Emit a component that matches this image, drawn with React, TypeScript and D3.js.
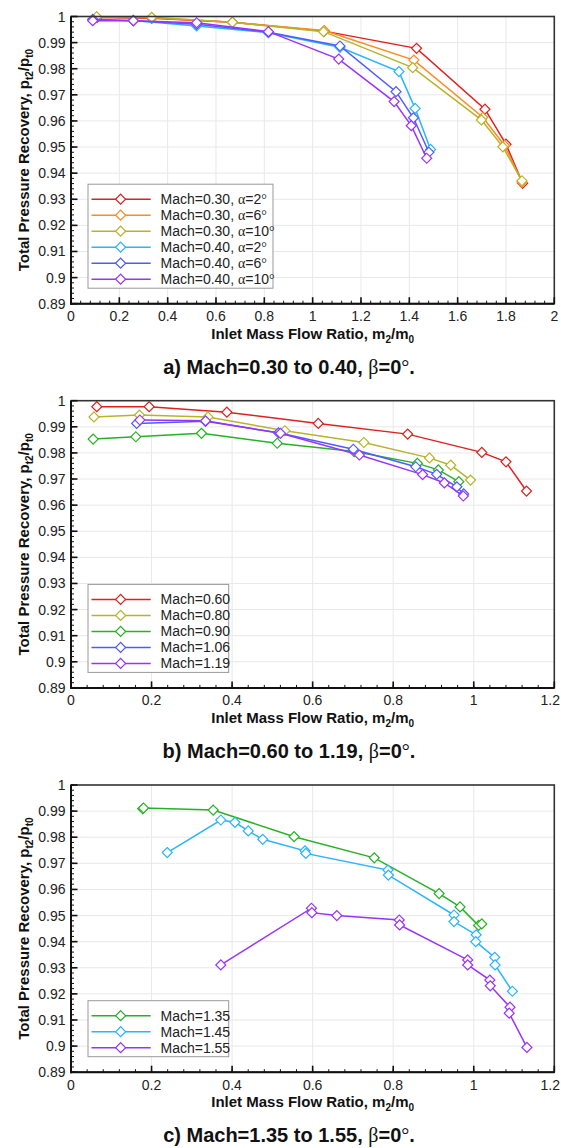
import React from "react";
import * as d3 from "d3";

type Pt = [number, number];

// ---------- Panel a: Mach 0.30 to 0.40 ----------
const a_M030_al2: Pt[] = [[0.107, 0.9996], [0.334, 0.9993], [0.668, 0.9978], [1.048, 0.9944], [1.430, 0.9878], [1.713, 0.9645], [1.800, 0.9511], [1.869, 0.9361]];
const a_M030_al6: Pt[] = [[0.106, 0.9998], [0.334, 0.9995], [0.668, 0.9978], [1.048, 0.9946], [1.419, 0.9833], [1.704, 0.9614], [1.794, 0.9506], [1.866, 0.9366]];
const a_M030_al10: Pt[] = [[0.106, 0.9999], [0.334, 0.9997], [0.668, 0.9978], [1.045, 0.9942], [1.414, 0.9804], [1.698, 0.9604], [1.787, 0.9501], [1.866, 0.9371]];
const a_M040_al2: Pt[] = [[0.090, 0.9987], [0.258, 0.9985], [0.520, 0.9964], [0.817, 0.9938], [1.113, 0.9882], [1.357, 0.9789], [1.424, 0.9648], [1.488, 0.9491]];
const a_M040_al6: Pt[] = [[0.090, 0.9989], [0.258, 0.9984], [0.520, 0.9970], [0.817, 0.9940], [1.113, 0.9887], [1.345, 0.9712], [1.417, 0.9612], [1.481, 0.9480]];
const a_M040_al10: Pt[] = [[0.090, 0.9984], [0.258, 0.9984], [0.520, 0.9976], [0.817, 0.9942], [1.108, 0.9837], [1.337, 0.9674], [1.408, 0.9582], [1.472, 0.9457]];
const a_labels = ["Mach=0.30, α=2°", "Mach=0.30, α=6°", "Mach=0.30, α=10°", "Mach=0.40, α=2°", "Mach=0.40, α=6°", "Mach=0.40, α=10°"];

// ---------- Panel b: Mach 0.60 to 1.19 ----------
const b_M060: Pt[] = [[0.064, 0.9977], [0.194, 0.9977], [0.387, 0.9956], [0.614, 0.9913], [0.836, 0.9872], [1.020, 0.9802], [1.080, 0.9766], [1.131, 0.9654]];
const b_M080: Pt[] = [[0.057, 0.9938], [0.170, 0.9945], [0.340, 0.9938], [0.531, 0.9885], [0.727, 0.9840], [0.890, 0.9781], [0.943, 0.9753], [0.992, 0.9696]];
const b_M090: Pt[] = [[0.055, 0.9853], [0.161, 0.9862], [0.324, 0.9875], [0.512, 0.9837], [0.703, 0.9805], [0.860, 0.9760], [0.912, 0.9735], [0.963, 0.9690]];
const b_M106: Pt[] = [[0.163, 0.9913], [0.334, 0.9921], [0.515, 0.9877], [0.701, 0.9814], [0.856, 0.9747], [0.908, 0.9718], [0.958, 0.9670], [0.975, 0.9643]];
const b_M119: Pt[] = [[0.171, 0.9926], [0.334, 0.9923], [0.520, 0.9875], [0.716, 0.9792], [0.873, 0.9717], [0.927, 0.9685], [0.974, 0.9635]];
const b_labels = ["Mach=0.60", "Mach=0.80", "Mach=0.90", "Mach=1.06", "Mach=1.19"];

// ---------- Panel c: Mach 1.35 to 1.55 ----------
const c_M135: Pt[] = [[0.178, 0.9909], [0.180, 0.9912], [0.353, 0.9904], [0.554, 0.9802], [0.753, 0.9721], [0.914, 0.9584], [0.966, 0.9533], [1.012, 0.9462], [1.020, 0.9468]];
const c_M145: Pt[] = [[0.239, 0.9741], [0.372, 0.9866], [0.407, 0.9857], [0.440, 0.9824], [0.476, 0.9792], [0.581, 0.9748], [0.583, 0.9738], [0.787, 0.9674], [0.788, 0.9655], [0.951, 0.9502], [0.951, 0.9477], [1.006, 0.9426], [1.005, 0.9400], [1.052, 0.9340], [1.053, 0.9311], [1.096, 0.9210]];
const c_M155: Pt[] = [[0.372, 0.9311], [0.597, 0.9528], [0.598, 0.9511], [0.660, 0.9500], [0.815, 0.9483], [0.816, 0.9464], [0.985, 0.9330], [0.985, 0.9311], [1.040, 0.9253], [1.041, 0.9231], [1.090, 0.9149], [1.088, 0.9126], [1.132, 0.8995]];
const c_labels = ["Mach=1.35", "Mach=1.45", "Mach=1.55"];

// ---------- ticks ----------
const Y_TICKS = [0.89, 0.9, 0.91, 0.92, 0.93, 0.94, 0.95, 0.96, 0.97, 0.98, 0.99, 1];
const X_TICKS_A = [0, 0.2, 0.4, 0.6, 0.8, 1, 1.2, 1.4, 1.6, 1.8, 2];
const X_TICKS_BC = [0, 0.2, 0.4, 0.6, 0.8, 1, 1.2];

const RED = "#e0201e", ORANGE = "#ff8a22", OLIVE = "#b7b42a", CYAN = "#29b5ff", BLUE = "#4f5bff", PURPLE = "#9933ff", GREEN = "#27b127";

const FONT = "'Liberation Sans', Arial, sans-serif";
const SERIF = "'Liberation Serif', 'Times New Roman', serif";

const W = 561;
const L = 71, R = 554.3, PH = 287.2;

function rich(s: string) {
  const parts: React.ReactNode[] = [];
  let buf = "";
  let k = 0;
  for (const ch of s) {
    if (ch === "α" || ch === "β" || ch === "°") {
      if (buf) parts.push(<tspan key={k++}>{buf}</tspan>);
      buf = "";
      parts.push(<tspan key={k++} fontFamily={SERIF} fontWeight="normal">{ch}</tspan>);
    } else buf += ch;
  }
  if (buf) parts.push(<tspan key={k++}>{buf}</tspan>);
  return parts;
}

type Series = { data: Pt[]; color: string; label: string };

function Panel({ top, xMax, xTicks, series, legendW, caption }: { top: number; xMax: number; xTicks: number[]; series: Series[]; legendW: number; caption: string }) {
  const x = d3.scaleLinear().domain([0, xMax]).range([L, R]);
  const y = d3.scaleLinear().domain([0.89, 1]).range([top + PH, top]);
  const line = d3.line<Pt>().x((d) => x(d[0])).y((d) => y(d[1]));
  const marker = d3.symbol().type(d3.symbolSquare).size(50)() as string;
  const bottom = top + PH;
  const xMinor = d3.range(0, Math.round(xMax / 0.04) + 1).map((i) => i * 0.04);
  const yMinor = d3.range(0, 56).map((i) => 0.89 + i * 0.002);
  const fmt = d3.format("~g");
  const rows = series.length;
  const lgH = 16 * rows + 8;
  const lgBottom = bottom - 15.5;
  const lgTop = lgBottom - lgH;
  const cx = (L + R) / 2;
  const cy = top + PH / 2;
  return (
    <g>
      {/* grid */}
      {xTicks.slice(1, -1).map((t) => (
        <line key={"gx" + t} x1={x(t)} x2={x(t)} y1={top} y2={bottom} stroke="#e8e8e8" strokeWidth={1} />
      ))}
      {Y_TICKS.slice(1, -1).map((t) => (
        <line key={"gy" + t} x1={L} x2={R} y1={y(t)} y2={y(t)} stroke="#e8e8e8" strokeWidth={1} />
      ))}
      {/* series */}
      {series.map((s, i) => (
        <g key={"s" + i}>
          <path d={line(s.data) as string} fill="none" stroke={s.color} strokeWidth={1.5} />
          {s.data.map((d, j) => (
            <path key={j} d={marker} transform={`translate(${x(d[0])},${y(d[1])}) rotate(45)`} fill="#fff" stroke={s.color} strokeWidth={1.2} />
          ))}
        </g>
      ))}
      {/* frame */}
      <rect x={L} y={top} width={R - L} height={PH} fill="none" stroke="#333" strokeWidth={1.6} />
      <line x1={L} x2={L} y1={top} y2={bottom + 1} stroke="#111" strokeWidth={2} />
      <line x1={L - 1} x2={R} y1={bottom} y2={bottom} stroke="#111" strokeWidth={2} />
      {/* ticks */}
      {xMinor.map((t, i) => (
        <line key={"xm" + i} x1={x(t)} x2={x(t)} y1={bottom} y2={bottom - 3} stroke="#111" strokeWidth={1} />
      ))}
      {xTicks.map((t) => (
        <line key={"xt" + t} x1={x(t)} x2={x(t)} y1={bottom} y2={bottom - 6.5} stroke="#111" strokeWidth={1.6} />
      ))}
      {yMinor.map((t, i) => (
        <line key={"ym" + i} x1={L} x2={L + 3} y1={y(t)} y2={y(t)} stroke="#111" strokeWidth={1} />
      ))}
      {Y_TICKS.map((t) => (
        <line key={"yt" + t} x1={L} x2={L + 6.5} y1={y(t)} y2={y(t)} stroke="#111" strokeWidth={1.6} />
      ))}
      {/* tick labels */}
      {xTicks.map((t) => {
        const label = fmt(t);
        const half = label.length * 4;
        const over = x(t) + half > W - 1;
        return (
          <text key={"xl" + t} x={over ? W - 1 : x(t)} y={bottom + 17.5} textAnchor={over ? "end" : "middle"} fontFamily={FONT} fontSize={14} fill="#222">{label}</text>
        );
      })}
      {Y_TICKS.map((t) => (
        <text key={"yl" + t} x={L - 5.5} y={y(t) + 5} textAnchor="end" fontFamily={FONT} fontSize={14} fill="#222">{fmt(t)}</text>
      ))}
      {/* axis titles */}
      <text x={cx} y={bottom + 35} textAnchor="middle" fontFamily={FONT} fontSize={15} fontWeight="bold" fill="#111">
        Inlet Mass Flow Ratio, m<tspan fontSize={10} dy={4}>2</tspan><tspan dy={-4}>/m</tspan><tspan fontSize={10} dy={4}>0</tspan>
      </text>
      <text transform={`translate(29,${cy}) rotate(-90)`} textAnchor="middle" fontFamily={FONT} fontSize={15} fontWeight="bold" fill="#111">
        Total Pressure Recovery, p<tspan fontSize={10} dy={4}>t2</tspan><tspan dy={-4}>/p</tspan><tspan fontSize={10} dy={4}>t0</tspan>
      </text>
      {/* legend */}
      <rect x={88} y={lgTop} width={legendW} height={lgH} fill="#fff" stroke="#999" strokeWidth={1} />
      {series.map((s, i) => {
        const ry = lgTop + 15 + 16 * i;
        return (
          <g key={"lg" + i}>
            <line x1={91.5} x2={150.7} y1={ry} y2={ry} stroke={s.color} strokeWidth={1.5} />
            <path d={marker} transform={`translate(120.6,${ry}) rotate(45)`} fill="#fff" stroke={s.color} strokeWidth={1.2} />
            <text x={160.5} y={ry + 5} fontFamily={FONT} fontSize={14} fill="#222">{rich(s.label)}</text>
          </g>
        );
      })}
      {/* caption */}
      <text x={289} y={bottom + 70} textAnchor="middle" fontFamily={FONT} fontSize={20} fontWeight="bold" fill="#111">{rich(caption)}</text>
    </g>
  );
}

export default function App() {
  const seriesA: Series[] = [
    { data: a_M030_al2, color: RED, label: a_labels[0] },
    { data: a_M030_al6, color: ORANGE, label: a_labels[1] },
    { data: a_M030_al10, color: OLIVE, label: a_labels[2] },
    { data: a_M040_al2, color: CYAN, label: a_labels[3] },
    { data: a_M040_al6, color: BLUE, label: a_labels[4] },
    { data: a_M040_al10, color: PURPLE, label: a_labels[5] },
  ];
  const seriesB: Series[] = [
    { data: b_M060, color: RED, label: b_labels[0] },
    { data: b_M080, color: OLIVE, label: b_labels[1] },
    { data: b_M090, color: GREEN, label: b_labels[2] },
    { data: b_M106, color: BLUE, label: b_labels[3] },
    { data: b_M119, color: PURPLE, label: b_labels[4] },
  ];
  const seriesC: Series[] = [
    { data: c_M135, color: GREEN, label: c_labels[0] },
    { data: c_M145, color: CYAN, label: c_labels[1] },
    { data: c_M155, color: PURPLE, label: c_labels[2] },
  ];
  return (
    <svg width={561} height={1148} style={{ position: "absolute", left: 0, top: 0, background: "#fff" }}>
      <rect x={0} y={0} width={561} height={1148} fill="#fff" />
      <Panel top={16.5} xMax={2} xTicks={X_TICKS_A} series={seriesA} legendW={185} caption="a) Mach=0.30 to 0.40, β=0°." />
      <Panel top={400.7} xMax={1.2} xTicks={X_TICKS_BC} series={seriesB} legendW={140.7} caption="b) Mach=0.60 to 1.19, β=0°." />
      <Panel top={785} xMax={1.2} xTicks={X_TICKS_BC} series={seriesC} legendW={140.7} caption="c) Mach=1.35 to 1.55, β=0°." />
    </svg>
  );
}
